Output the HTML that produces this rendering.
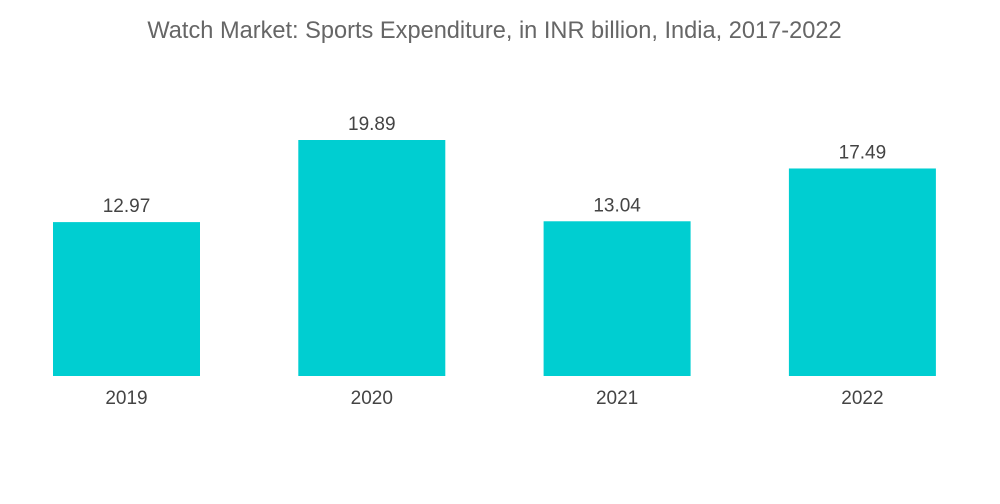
<!DOCTYPE html>
<html><head><meta charset="utf-8"><style>
body{margin:0;background:#fff;}
svg{display:block;font-family:"Liberation Sans",sans-serif;}
</style></head><body>
<svg id="c" width="1000" height="504">
<text x="494.5" y="38" text-anchor="middle" font-size="23.6" fill="#666">Watch Market: Sports Expenditure, in INR billion, India, 2017-2022</text>
<g id="bars"></g>
</svg>
<script>
const categories=["2019","2020","2021","2022"];
const values=[12.97,19.89,13.04,17.49];
const valueLabels=["12.97","19.89","13.04","17.49"];
const base=376, scale=236/19.89, x0=53, step=245.3, bw=147;
function y(v){return base-v*scale;}
function x(i){return x0+i*step;}
const g=document.getElementById('bars');
const ns="http://www.w3.org/2000/svg";
categories.forEach((c,i)=>{
  const r=document.createElementNS(ns,'rect');
  r.setAttribute('x',x(i));r.setAttribute('y',y(values[i]));
  r.setAttribute('width',bw);r.setAttribute('height',base-y(values[i]));
  r.setAttribute('fill','#00ced1');
  
  
  g.appendChild(r);
  const t=document.createElementNS(ns,'text');
  t.setAttribute('x',x(i)+bw/2);t.setAttribute('y',y(values[i])-10);
  t.setAttribute('text-anchor','middle');t.setAttribute('font-size','19');t.setAttribute('fill','#444');
  t.textContent=valueLabels[i];
  
  
  g.appendChild(t);
  const l=document.createElementNS(ns,'text');
  l.setAttribute('x',x(i)+bw/2);l.setAttribute('y',404);
  l.setAttribute('text-anchor','middle');l.setAttribute('font-size','19');l.setAttribute('fill','#444');
  l.textContent=c;
  
  
  g.appendChild(l);
});
</script>
</body></html>
